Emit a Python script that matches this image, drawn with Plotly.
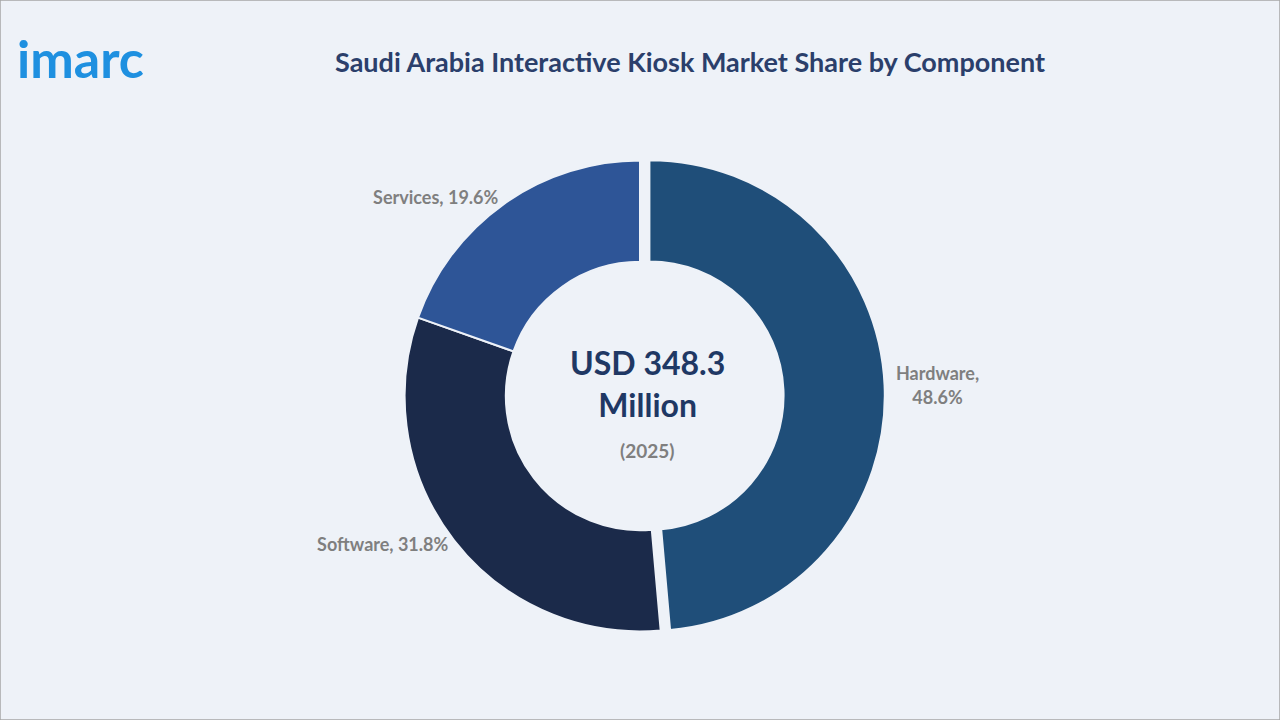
import plotly.graph_objects as go

components = ["Hardware", "Software", "Services"]
shares = [48.6, 31.8, 19.6]
colors = ["#1f4e79", "#1b2a4a", "#2e5597"]
label_text = ["<b>Hardware,<br>48.6%</b>", "<b>Software, 31.8%</b>", "<b>Services, 19.6%</b>"]

fig = go.Figure(go.Pie(
    labels=components, values=shares, text=label_text,
    textinfo="text", textposition="outside",
    hole=0.57, sort=False, direction="clockwise", rotation=0,
    pull=[0.04, 0, 0],
    marker=dict(colors=colors, line=dict(color="#eef2f8", width=2)),
    textfont=dict(family="Lato", size=18, color="#7f7f7f"),
    domain=dict(x=[0.30, 0.70], y=[0.11, 0.79]),
    showlegend=False,
))

fig.add_annotation(x=0.506, y=0.468, xref="paper", yref="paper",
                   text="<b>USD 348.3<br>Million</b>", showarrow=False,
                   font=dict(family="Lato", size=32, color="#1f3864"))
fig.add_annotation(x=0.506, y=0.375, xref="paper", yref="paper",
                   text="<b>(2025)</b>", showarrow=False,
                   font=dict(family="Lato", size=19, color="#7f7f7f"))

fig.add_annotation(x=0.539, y=0.94, xref="paper", yref="paper",
                   text="<b>Saudi Arabia Interactive Kiosk Market Share by Component</b>",
                   showarrow=False, font=dict(family="Lato", size=27, color="#2b3f6b"))
fig.add_annotation(x=0.012, y=0.965, xref="paper", yref="paper", xanchor="left",
                   text="<b>imarc</b>", showarrow=False,
                   font=dict(family="Lato", size=52, color="#1e90e0"))

fig.add_shape(type="rect", xref="paper", yref="paper", x0=0, y0=0, x1=1, y1=1,
              line=dict(color="#a6a6a6", width=1.5))

fig.update_layout(width=1280, height=720, margin=dict(l=0, r=0, t=0, b=0),
                  paper_bgcolor="#eef2f8", plot_bgcolor="#eef2f8")

fig.write_html("out.html", config={"displayModeBar": False},
               post_script="document.body.style.margin='0';")
